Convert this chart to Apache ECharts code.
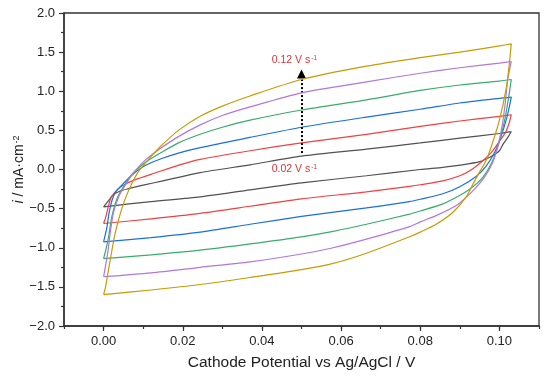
<!DOCTYPE html>
<html>
<head>
    <meta charset="UTF-8">
    <title>CV</title>
    <style>
        * { margin: 0; padding: 0; }
        html, body { width: 100%; height: 100%; background: #fff; }
        #chart { width: 550px; height: 380px; }
    </style>
</head>
<body>
<div id="chart"></div>
<script src="https://cdn.jsdelivr.net/npm/echarts@6/dist/echarts.min.js"></script>
<script>
    // scan rates (V/s) and their colours
    const scanRates = ['0.02', '0.04', '0.06', '0.08', '0.10', '0.12'];
    const colors = ['#515151', '#F14040', '#1A6FDF', '#37AD6B', '#B177DE', '#CC9900'];

    // x tick positions
    const xMajorTicks = [0, 0.02, 0.04, 0.06, 0.08, 0.10];

    // each loop: forward scan then reverse scan, [potential V, current mA/cm2]
    const cv002 = [
        [0, -0.477], [0.0012, -0.40], [0.0023, -0.33], [0.0042, -0.275], [0.0063, -0.245], [0.010, -0.20],
        [0.015, -0.145], [0.0244, -0.04], [0.037, 0.06], [0.05, 0.17], [0.0664, 0.26], [0.08, 0.34],
        [0.09, 0.40], [0.1, 0.46], [0.103, 0.485],
        [0.102, 0.40], [0.101, 0.33], [0.1, 0.24], [0.098, 0.17], [0.095, 0.10], [0.09, 0.055],
        [0.0857, 0.028], [0.08, 0.0], [0.0664, -0.08], [0.05, -0.17], [0.037, -0.26], [0.0244, -0.35],
        [0.012, -0.41], [0, -0.477]
    ];
    const cv004 = [
        [0, -0.69], [0.0006, -0.6], [0.0013, -0.45], [0.002, -0.35], [0.0034, -0.26], [0.005, -0.2],
        [0.008, -0.13], [0.013, -0.045], [0.019, 0.055], [0.0244, 0.13], [0.037, 0.24], [0.05, 0.34],
        [0.0664, 0.45], [0.08, 0.55], [0.09, 0.62], [0.1, 0.68], [0.103, 0.70],
        [0.1025, 0.6], [0.1016, 0.48], [0.1, 0.36], [0.098, 0.22], [0.0955, 0.1], [0.093, 0.0],
        [0.09, -0.08], [0.0857, -0.145], [0.08, -0.195], [0.0773, -0.215], [0.0664, -0.285], [0.05, -0.375],
        [0.037, -0.47], [0.0244, -0.56], [0.012, -0.63], [0, -0.69]
    ];
    const cv006 = [
        [0, -0.925], [0.0008, -0.75], [0.0014, -0.55], [0.0021, -0.40], [0.003, -0.29], [0.0046, -0.2],
        [0.0072, -0.07], [0.0105, 0.05], [0.0147, 0.14], [0.0189, 0.21], [0.0244, 0.28], [0.037, 0.41],
        [0.05, 0.54], [0.0664, 0.67], [0.08, 0.77], [0.09, 0.85], [0.1, 0.91], [0.103, 0.925],
        [0.1025, 0.8], [0.1017, 0.63], [0.1004, 0.42], [0.0987, 0.21], [0.0966, 0.04], [0.0941, -0.09],
        [0.09, -0.22], [0.0857, -0.31], [0.08, -0.38], [0.0773, -0.41], [0.0664, -0.49], [0.05, -0.60],
        [0.037, -0.70], [0.0244, -0.80], [0.012, -0.87], [0, -0.925]
    ];
    const cv008 = [
        [0, -1.14], [0.0007, -1.0], [0.0013, -0.85], [0.0021, -0.6], [0.0034, -0.37], [0.005, -0.22],
        [0.0072, -0.06], [0.0105, 0.09], [0.0147, 0.22], [0.0189, 0.34], [0.0244, 0.45], [0.03, 0.54],
        [0.037, 0.63], [0.05, 0.76], [0.0664, 0.89], [0.08, 1.01], [0.09, 1.08], [0.1, 1.13], [0.103, 1.15],
        [0.1025, 0.98], [0.1018, 0.76], [0.1008, 0.51], [0.0996, 0.29], [0.098, 0.08], [0.0958, -0.1],
        [0.0933, -0.22], [0.0907, -0.31], [0.0857, -0.44], [0.08, -0.53], [0.0773, -0.57], [0.0664, -0.70],
        [0.058, -0.79], [0.05, -0.86], [0.037, -0.95], [0.0244, -1.03], [0.012, -1.09], [0, -1.14]
    ];
    const cv010 = [
        [0, -1.37], [0.0006, -1.2], [0.0011, -1.05], [0.0017, -0.8], [0.0025, -0.55], [0.0038, -0.35],
        [0.0055, -0.2], [0.0076, -0.04], [0.0105, 0.12], [0.0147, 0.28], [0.0189, 0.42], [0.0244, 0.57],
        [0.03, 0.69], [0.037, 0.80], [0.05, 0.98], [0.0664, 1.12], [0.08, 1.23], [0.09, 1.30], [0.1, 1.36],
        [0.103, 1.38],
        [0.1021, 1.15], [0.1015, 0.86], [0.1007, 0.56], [0.0996, 0.3], [0.0983, 0.09], [0.0962, -0.1],
        [0.0937, -0.25], [0.0915, -0.36], [0.0891, -0.46], [0.084, -0.59], [0.08, -0.67], [0.0773, -0.73],
        [0.0664, -0.89], [0.058, -1.0], [0.05, -1.08], [0.037, -1.18], [0.0244, -1.25], [0.012, -1.32],
        [0, -1.37]
    ];
    const cv012 = [
        [0, -1.60], [0.0005, -1.5], [0.001, -1.35], [0.0017, -1.15], [0.0029, -0.82], [0.0046, -0.5],
        [0.0063, -0.27], [0.0085, -0.05], [0.0105, 0.08], [0.0126, 0.2], [0.0147, 0.31], [0.0189, 0.5],
        [0.0244, 0.68], [0.03, 0.81], [0.037, 0.94], [0.05, 1.15], [0.0664, 1.32], [0.08, 1.43],
        [0.09, 1.5], [0.1, 1.58], [0.103, 1.605],
        [0.1025, 1.35], [0.1018, 1.06], [0.1, 0.63], [0.098, 0.3], [0.0965, 0.1], [0.095, -0.03],
        [0.0935, -0.17], [0.0916, -0.35], [0.0882, -0.55], [0.084, -0.70], [0.08, -0.80], [0.0773, -0.86],
        [0.0664, -1.07], [0.058, -1.2], [0.05, -1.28], [0.037, -1.38], [0.0244, -1.47], [0.012, -1.54],
        [0, -1.60]
    ];
    const loops = [cv002, cv004, cv006, cv008, cv010, cv012];

    // arrow + labels
    const arrowFrom = [0.05, 0.21];
    const arrowTo = [0.05, 1.22];
    const topLabelAt = [0.0482, 1.395];
    const bottomLabelAt = [0.0482, 0.005];

    const font = 'Liberation Sans, Arial, sans-serif';
    const axisColor = '#333';
    const red = '#E0303A';
    const supRich = {
        base: { fontSize: 10.5, color: red, fontFamily: font },
        sup: { fontSize: 6.5, color: red, fontFamily: font, verticalAlign: 'top', padding: [0, 0, 4, 1] }
    };

    const chart = echarts.init(document.getElementById('chart'), null, { renderer: 'canvas' });

    const series = loops.map((d, i) => ({
        name: scanRates[i] + ' V/s',
        type: 'line',
        data: d,
        showSymbol: false,
        smooth: 0.25,
        lineStyle: { color: colors[i], width: 1.2 },
        itemStyle: { color: colors[i] },
        z: 2 + i
    }));

    series.push({
        type: 'line',
        data: [],
        silent: true,
        z: 20,
        markLine: {
            silent: true,
            symbol: ['none', 'triangle'],
            symbolSize: 9,
            lineStyle: { type: 'dotted', color: '#000', width: 2 },
            itemStyle: { color: '#000' },
            label: { show: false },
            data: [[{ coord: arrowFrom }, { coord: arrowTo }]]
        },
        markPoint: {
            silent: true,
            symbol: 'circle',
            symbolSize: 0,
            label: { show: true, position: 'inside', rich: supRich },
            data: [
                { coord: topLabelAt, label: { formatter: '{base|' + scanRates[5] + ' V s}{sup|-1}' } },
                { coord: bottomLabelAt, label: { formatter: '{base|' + scanRates[0] + ' V s}{sup|-1}' } }
            ]
        }
    });

    chart.setOption({
        animation: false,
        backgroundColor: '#fff',
        grid: {
            left: 64, right: 11, top: 13, bottom: 54,
            outerBoundsMode: 'none',
            show: true, borderColor: axisColor, borderWidth: 1.3
        },
        xAxis: [{
            type: 'value',
            min: -0.01, max: 0.11,
            position: 'bottom',
            axisLine: { show: true, onZero: false, lineStyle: { color: axisColor, width: 1.5 } },
            axisTick: { show: true, length: 5, customValues: xMajorTicks, lineStyle: { color: axisColor, width: 1.2 } },
            axisLabel: {
                customValues: xMajorTicks, margin: 9, color: '#222', fontSize: 13, fontFamily: font,
                formatter: v => v.toFixed(2)
            },
            splitLine: { show: false },
            name: 'Cathode Potential vs Ag/AgCl / V',
            nameLocation: 'middle',
            nameMoveOverlap: false,
            nameGap: 29,
            nameTextStyle: { fontSize: 15.5, color: '#222', fontFamily: font }
        }, {
            type: 'value',
            min: -0.01, max: 0.11, interval: 0.01,
            position: 'bottom',
            axisLine: { show: false, onZero: false },
            axisTick: { show: true, length: 3, lineStyle: { color: axisColor, width: 1.2 } },
            axisLabel: { show: false },
            splitLine: { show: false }
        }],
        yAxis: {
            type: 'value',
            min: -2, max: 2, interval: 0.5,
            axisLine: { show: true, onZero: false, lineStyle: { color: axisColor, width: 1.5 } },
            axisTick: { show: true, length: 5, lineStyle: { color: axisColor, width: 1.2 } },
            minorTick: { show: true, splitNumber: 2, length: 3, lineStyle: { color: axisColor, width: 1.2 } },
            axisLabel: {
                margin: 9, color: '#222', fontSize: 13, fontFamily: font,
                formatter: v => v.toFixed(1).replace('-', '\u2212')
            },
            splitLine: { show: false },
            name: '{it|i} / mA\u00b7cm{sup|-2}',
            nameLocation: 'middle',
            nameMoveOverlap: false,
            nameGap: 37,
            nameTextStyle: {
                fontSize: 14, color: '#222', fontFamily: font,
                rich: {
                    it: { fontSize: 14, fontStyle: 'italic', color: '#222', fontFamily: font },
                    sup: { fontSize: 9, color: '#222', fontFamily: font, verticalAlign: 'top', padding: [0, 0, 6, 1] }
                }
            }
        },
        series: series
    });
</script>
</body>
</html>
